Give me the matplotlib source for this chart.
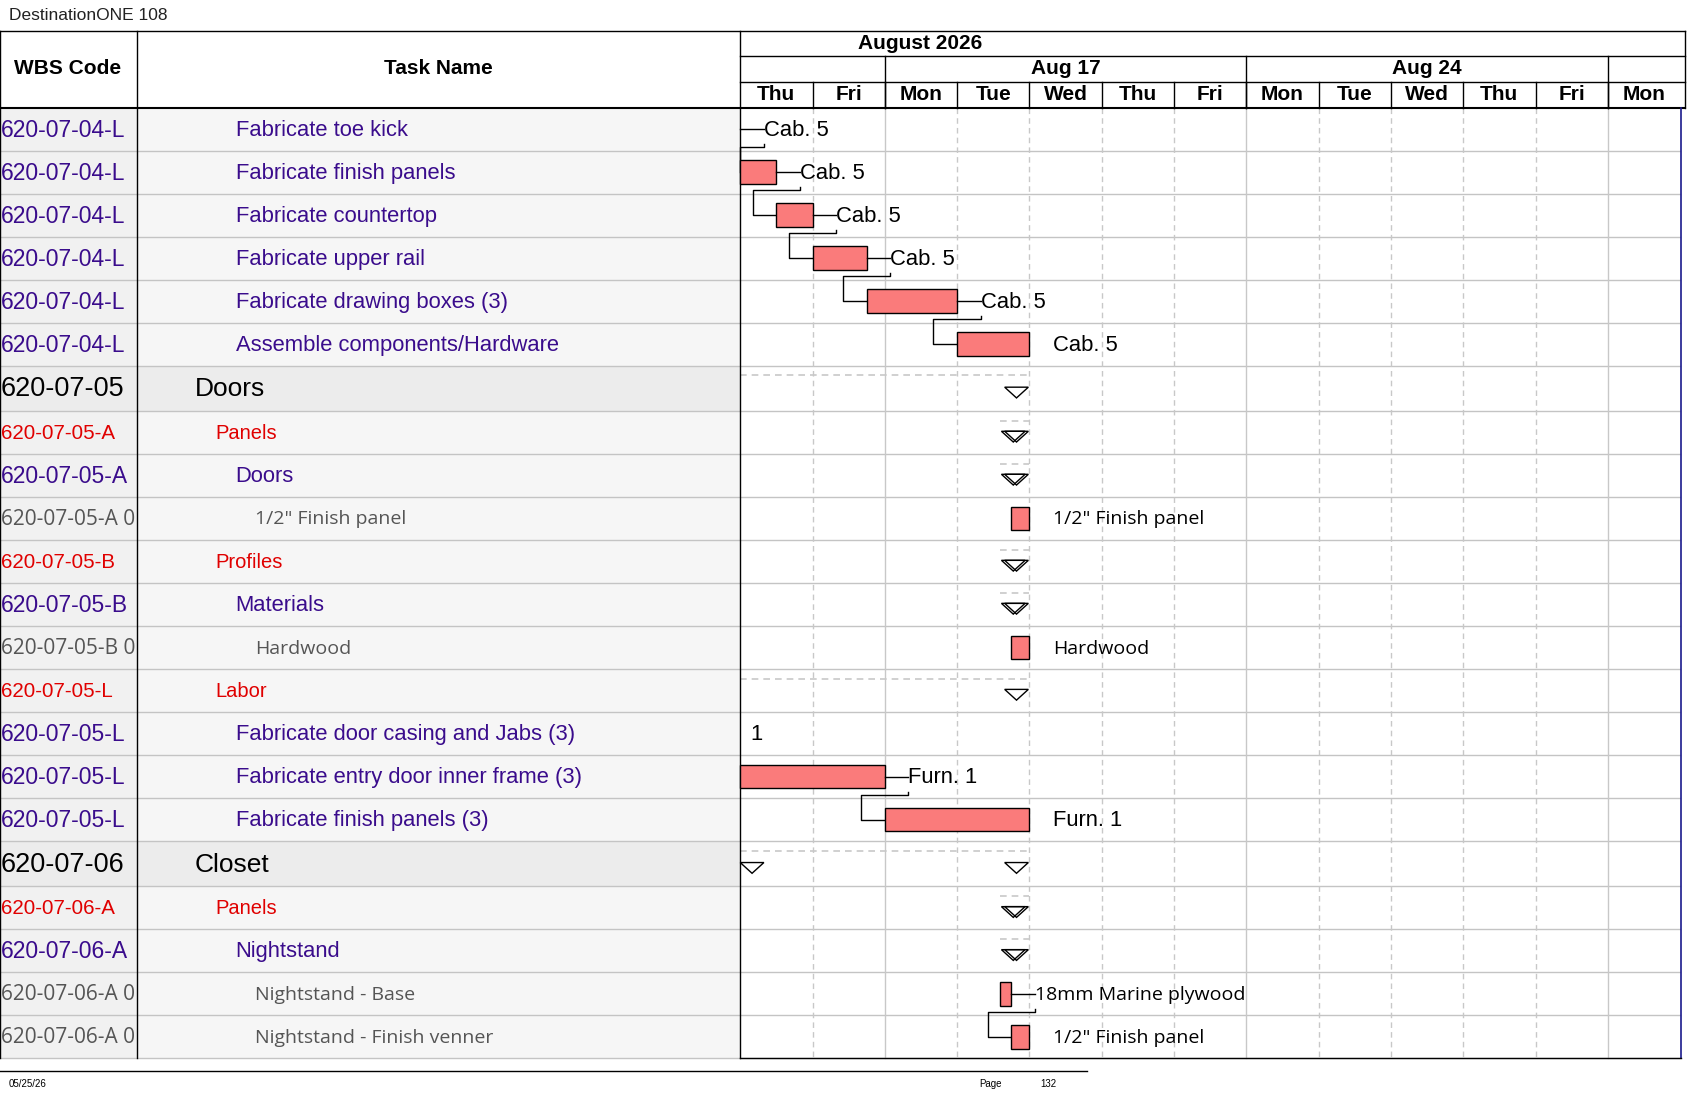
import matplotlib
matplotlib.use("Agg")
import matplotlib.pyplot as plt
from matplotlib.patches import Rectangle, Polygon

title = "DestinationONE 108"
days = ["Thu", "Fri", "Mon", "Tue", "Wed", "Thu", "Fri", "Mon", "Tue", "Wed", "Thu", "Fri", "Mon"]
weeks = [("", 0, 2), ("Aug 17", 2, 7), ("Aug 24", 7, 12), ("", 12, 13)]
month = "August 2026"

# kind: t=task(purple), g=group, s=subgroup(red), r=resource(gray)
kinds = ["t","t","t","t","t","t","g","s","t","r","s","t","r","s","t","t","t","g","s","t","r","r"]
wbs = ["620-07-04-L"]*6 + ["620-07-05","620-07-05-A","620-07-05-A","620-07-05-A 0","620-07-05-B",
       "620-07-05-B","620-07-05-B 0","620-07-05-L","620-07-05-L","620-07-05-L","620-07-05-L",
       "620-07-06","620-07-06-A","620-07-06-A","620-07-06-A 0","620-07-06-A 0"]
names = ["Fabricate toe kick","Fabricate finish panels","Fabricate countertop","Fabricate upper rail",
         "Fabricate drawing boxes (3)","Assemble components/Hardware","Doors","Panels","Doors",
         "1/2\" Finish panel","Profiles","Materials","Hardwood","Labor",
         "Fabricate door casing and Jabs (3)","Fabricate entry door inner frame (3)",
         "Fabricate finish panels (3)","Closet","Panels","Nightstand","Nightstand - Base",
         "Nightstand - Finish venner"]
# bar start/end in working days from Thu Aug 13 (None = no bar)
bar_start = [0, 0, 0.5, 1, 1.75, 3, None, None, None, 3.75, None, None, 3.75, None, None, 0, 2, None, None, None, 3.6, 3.75]
bar_end   = [0, 0.5, 1, 1.75, 3, 4, None, None, None, 4, None, None, 4, None, None, 2, 4, None, None, None, 3.75, 4]
bar_label = ["Cab. 5"]*6 + ["","","","1/2\" Finish panel","","","Hardwood","","1","Furn. 1","Furn. 1",
             "","","","18mm Marine plywood","1/2\" Finish panel"]
summary_end = 4  # summary markers at end of day index 4 (Wed)

W, H = 1568, 1020
fig = plt.figure(figsize=(16.87, 10.97), dpi=100)
ax = fig.add_axes([0, 0, 1, 1])
ax.set_xlim(0, W); ax.set_ylim(H, 0); ax.axis("off")

G0, DW = 688, 67.2
def dx(d): return G0 + d * DW
GR = dx(13)
PURPLE, RED, GRAY = "#3a0c8c", "#e00000", "#555555"
ARIAL = "Liberation Sans"
CAL = "Open Sans"

ax.text(8, 14, title, fontsize=12.5, family=ARIAL, va="center", color="#222")

tops = []
y = 100
for k in kinds:
    h = 42 if k == "g" else 40
    tops.append((y, y + h)); y += h
bottom = y

for (t, b), k in zip(tops, kinds):
    c = "#ececec" if k == "g" else "#f6f6f6"
    ax.add_patch(Rectangle((0, t), G0, b - t, color=c, lw=0, zorder=0))
    if k != "g":
        ax.add_patch(Rectangle((0, t), 127, b - t, color="#f1f1f1", lw=0, zorder=0))
    ax.plot([0, GR], [b, b], color="#c4c4c4", lw=1, zorder=1)

for i in range(1, 13):
    x = dx(i)
    solid = i in (2, 7, 12)
    ax.plot([x, x], [100, bottom], color="#c8c8c8", lw=1, ls="-" if solid else (0, (4, 3)), zorder=1)

for yy in (29, 100):
    ax.plot([0, 1566], [yy, yy], color="black", lw=1.5 if yy == 100 else 1, zorder=3)
ax.plot([G0, 1566], [52, 52], color="black", lw=1)
ax.plot([G0, 1566], [76, 76], color="black", lw=1)
for x in (0, 127, G0):
    ax.plot([x, x], [29, bottom], color="black", lw=1, zorder=3)
ax.plot([1566, 1566], [29, 100], color="black", lw=1)
ax.plot([1562, 1562], [100, bottom], color="#1a1a8c", lw=1.2, zorder=3)
ax.plot([G0, 1562], [bottom, bottom], color="black", lw=1, zorder=3)
HF = 15
ax.text(63, 64, "WBS Code", ha="center", va="center", fontsize=HF, weight="bold", family=ARIAL)
ax.text(407, 64, "Task Name", ha="center", va="center", fontsize=HF, weight="bold", family=ARIAL)
ax.text(855, 40, month, ha="center", va="center", fontsize=HF, weight="bold", family=ARIAL)
for lab, a, b in weeks:
    if a > 0:
        ax.plot([dx(a), dx(a)], [52, 100], color="black", lw=1)
    if lab:
        ax.text((dx(a) + dx(b)) / 2, 64, lab, ha="center", va="center", fontsize=HF, weight="bold", family=ARIAL)
for i, d in enumerate(days):
    if i > 0:
        ax.plot([dx(i), dx(i)], [76, 100], color="black", lw=1)
    ax.text(dx(i) + DW / 2, 88, d, ha="center", va="center", fontsize=HF, weight="bold", family=ARIAL)

for i, ((t, b), k) in enumerate(zip(tops, kinds)):
    yc = (t + b) / 2 + 1
    if k == "g":
        ax.text(1, yc, wbs[i], va="center", fontsize=19.5, family=ARIAL, color="black")
        ax.text(181, yc, names[i], va="center", fontsize=19, family=ARIAL, color="black")
    elif k == "s":
        ax.text(1, yc, wbs[i], va="center", fontsize=14.8, family=ARIAL, color=RED)
        ax.text(200, yc, names[i], va="center", fontsize=14.5, family=ARIAL, color=RED)
    elif k == "t":
        ax.text(1, yc, wbs[i], va="center", fontsize=16.5, family=ARIAL, color=PURPLE)
        ax.text(219, yc, names[i], va="center", fontsize=15.8, family=ARIAL, color=PURPLE)
    else:
        ax.text(1, yc, wbs[i], va="center", fontsize=15, family=CAL, color=GRAY)
        ax.text(237, yc, names[i], va="center", fontsize=14, family=CAL, color=GRAY)

for i, ((t, b), k) in enumerate(zip(tops, kinds)):
    yc = (t + b) / 2
    s, e = bar_start[i], bar_end[i]
    lab = bar_label[i]
    if s is not None:
        x1, x2 = dx(s), dx(e)
        if x2 > x1:
            ax.add_patch(Rectangle((x1, yc - 11), x2 - x1, 22, facecolor="#fa7b7b", edgecolor="black", lw=1, zorder=4))
        fam = CAL if k == "r" else ARIAL
        fs = 14 if k == "r" else 15.8
        chained = i < 5 or i == 15 or i == 20
        if chained:
            lx = x2 + 22
            ax.plot([x2, lx], [yc, yc], color="black", lw=1, zorder=4)
            nx = dx(bar_start[i + 1])
            ny = (tops[i + 1][0] + tops[i + 1][1]) / 2
            jx = max(G0, nx - 22)
            ax.plot([lx, lx, jx, jx, nx], [yc + 14, yc + 17, yc + 17, ny, ny], color="black", lw=1, zorder=4)
        else:
            lx = dx(4) + 22
        ax.text(lx, yc + 1, lab, va="center", fontsize=fs, family=fam, color="black", zorder=5)
    elif lab:
        ax.text(G0 + 9, yc + 1, lab, va="center", fontsize=15.8, family=ARIAL)

def tri(xc, yc, double=False):
    pts = [(xc - 11, yc - 5), (xc + 11, yc - 5), (xc, yc + 5)]
    ax.add_patch(Polygon(pts, closed=True, facecolor="white", edgecolor="black", lw=1, zorder=4))
    if double:
        p2 = [(xc - 14, yc - 5), (xc + 8, yc - 5), (xc - 3, yc + 5)]
        ax.add_patch(Polygon(p2, closed=True, facecolor="none", edgecolor="black", lw=1, zorder=4))

for i, ((t, b), k) in enumerate(zip(tops, kinds)):
    yc = (t + b) / 2
    if k in ("g", "s", "t") and bar_start[i] is None and not bar_label[i]:
        xe = dx(summary_end)
        if k == "g" or names[i] == "Labor":
            ax.plot([G0, xe], [t + 9, t + 9], color="#c8c8c8", lw=1.2, ls=(0, (4, 3)), zorder=2)
        else:
            ax.plot([xe - 27, xe], [t + 9, t + 9], color="#c8c8c8", lw=1.2, ls=(0, (4, 3)), zorder=2)
        tri(xe - 12, yc + 4, double=(k != "g" and names[i] != "Labor"))
        if names[i] == "Closet":
            tri(G0 + 11, yc + 4)

ax.plot([0, 1010], [996, 996], color="black", lw=1)
ax.text(8, 1008, "05/25/26", fontsize=7, family=ARIAL, va="center")
ax.text(910, 1008, "Page", fontsize=7, family=ARIAL, va="center")
ax.text(967, 1008, "132", fontsize=7, family=ARIAL, va="center")

fig.savefig("out.png", dpi=100)
